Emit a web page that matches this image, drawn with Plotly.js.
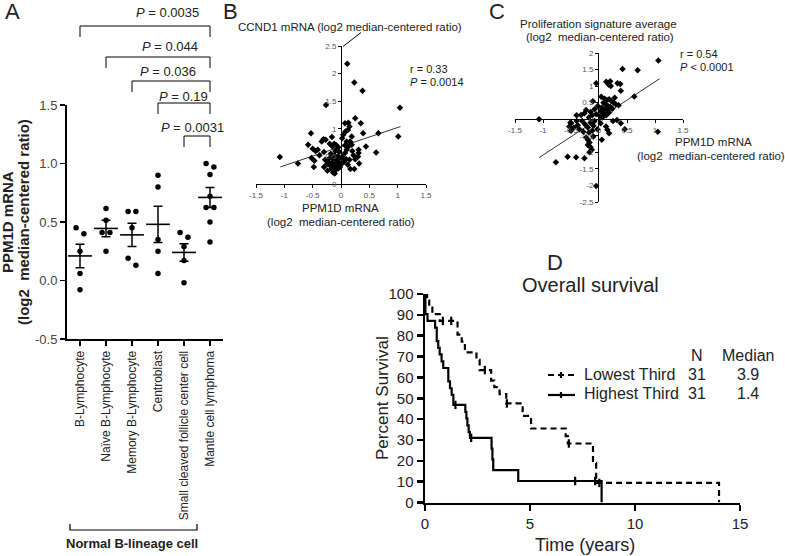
<!DOCTYPE html>
<html><head><meta charset="utf-8">
<script src="https://cdn.plot.ly/plotly-3.0.1.min.js"></script>
<style>html,body{margin:0;padding:0;background:#fff}#chart{width:785px;height:556px}</style>
</head><body><div id="chart"></div>
<script>
// ---------------- Panel A data ----------------
const cellTypes = ["B-Lymphocyte","Naïve B-Lymphocyte","Memory B-Lymphocyte","Centroblast","Small cleaved follicle center cell","Mantle cell lymphoma"];
const bLymphocyte = [0.45,0.40,0.25,0.06,-0.08];
const naiveB = [0.615,0.515,0.41,0.41,0.25];
const memoryB = [0.59,0.59,0.45,0.19,0.13];
const centroblast = [0.90,0.80,0.35,0.25,0.06];
const smallCleaved = [0.41,0.37,0.29,0.17,-0.02];
const mantleCell = [1.00,0.97,0.905,0.72,0.625,0.625,0.50,0.33];
const groupMeans = [0.21,0.445,0.39,0.48,0.24,0.71];
const groupSEM = [0.10,0.07,0.10,0.155,0.075,0.085];
const compareFrom = [0,1,2,3,4];          // each compared with Mantle cell lymphoma
const pValues = ["0.0035","0.044","0.036","0.19","0.0031"];
const yTicksA = [-0.5,0,0.5,1,1.5];
const yTickTextA = ["-0.5","0.0","0.5","1.0","1.5"];

// ---------------- Panel B data ----------------
const ppm1dB = [-1.08,-0.76,-0.48,-0.53,-0.265,1.04,1.01,0.66,0.62,0.44,0.35,0.25,0.39,0.32,0.165,0.235,-0.24,-0.11,
  0.11,0.235,0.38,
  0.07,0.13,0.15,0.12,0.08,0.04,0.02,0.19,0.10,0.16,0.07,0.13,0.19,0.31,0.31,0.30,0.10,0.07,0.03,0.09,0.20,0.22,0.15,0.05,0.12,0.25,
  -0.58,-0.50,-0.45,-0.41,-0.34,-0.31,-0.27,-0.16,-0.20,-0.12,-0.08,-0.15,-0.05,-0.52,-0.47,-0.38,-0.30,
  -0.18,-0.12,-0.06,-0.20,-0.14,-0.08,-0.02,-0.22,-0.16,-0.10,-0.04,-0.19,-0.13,-0.07,-0.01,-0.17,-0.09,-0.14,-0.05,-0.28,-0.25,-0.30,-0.03,-0.10,
  -0.02];
const ccnd1B = [0.49,0.37,0.31,0.92,1.43,1.38,0.86,0.92,0.57,0.68,1.10,1.19,0.92,0.37,0.27,0.27,0.24,0.19,
  2.18,1.84,1.69,
  1.10,1.11,1.04,0.98,0.95,0.89,0.83,0.86,0.77,0.77,0.70,0.68,0.71,0.62,0.56,0.50,0.62,0.56,0.49,0.45,0.60,0.52,0.44,0.40,0.35,0.45,
  0.71,0.64,0.60,0.62,0.77,0.81,0.80,0.85,0.73,0.73,0.70,0.68,0.66,0.47,0.42,0.52,0.58,
  0.55,0.52,0.50,0.47,0.45,0.44,0.47,0.40,0.38,0.37,0.39,0.33,0.31,0.32,0.34,0.27,0.26,0.21,0.28,0.44,0.36,0.31,0.58,0.60,
  0.31];
const fitXB = [-1.07,1.05];
const fitYB = [0.31,1.04];
const axisTicksB = [-1.5,-1,-0.5,0,0.5,1,1.5];
const axisTickTextB = ["-1.5","-1","-0.5","0","0.5","1","1.5"];
const yTicksB = [0,0.5,1,1.5,2,2.5];
const yTickTextB = ["0","0.5","1","1.5","2","2.5"];

// ---------------- Panel C data ----------------
const ppm1dC = [1.06,0.69,0.42,-0.05,0.13,0.20,0.17,0.21,0.33,0.38,0.39,0.63,-0.11,
  0.10,0.14,0.18,0.22,0.26,0.30,0.08,0.12,0.16,0.20,0.05,0.10,0.15,0.24,0.03,0.08,0.13,0.18,0.02,0.06,0.28,0.35,0.04,
  -0.23,-0.26,-0.32,-0.40,-0.15,-0.08,-0.12,-0.05,-0.18,-0.02,
  -1.07,-0.51,-0.50,-0.53,-0.45,-0.38,-0.30,-0.35,-0.25,-0.20,-0.15,-0.10,-0.28,-0.18,-0.08,-0.03,-0.12,0.03,0.39,0.46,1.05,0.15,0.18,0.125,0.25,0.32,
  -0.23,-0.20,-0.17,-0.20,-0.15,-0.13,-0.17,-0.10,-0.77,-0.56,-0.41,-0.26,-0.05,0.05,-0.50,-0.40];
const prolifC = [1.77,1.48,1.52,1.09,1.13,1.15,1.05,1.00,1.09,1.06,0.86,0.69,0.54,
  0.62,0.58,0.60,0.55,0.50,0.45,0.50,0.45,0.40,0.38,0.35,0.30,0.28,0.32,0.25,0.18,0.12,0.20,0.10,0.05,0.65,0.42,0.68,
  0.28,0.18,0.13,0.12,0.22,0.30,0.12,0.15,0.05,0.40,
  0.00,-0.10,-0.12,-0.22,-0.25,-0.18,-0.05,-0.30,-0.15,-0.25,-0.10,-0.20,-0.38,-0.40,-0.05,-0.30,-0.35,-0.12,-0.12,-0.30,-0.38,-0.32,-0.42,-0.22,-0.05,-0.02,
  -0.55,-0.62,-0.70,-0.78,-0.85,-0.92,-1.00,-0.52,-1.30,-1.13,-1.15,-1.18,-2.02,-0.62,-0.35,-0.05];
const fitXC = [-1.07,1.08];
const fitYC = [-1.16,1.22];
const yTicksC = [-2.5,-2,-1.5,-1,-0.5,0,0.5,1,1.5,2];
const yTickTextC = ["-2.5","-2","-1.5","-1","-0.5","0","0.5","1","1.5","2"];

// ---------------- Panel D data (Kaplan-Meier) ----------------
const lowTime = [0,0.1,0.2,0.35,0.7,1.55,1.75,1.9,2.45,2.6,3.15,3.3,3.55,3.87,4.65,5.05,6.7,6.8,8.0,8.15,14.0];
const lowSurv = [100,96.8,93.5,90.3,87.1,80.5,77.2,72.0,68.4,63.5,58.5,55.3,52.0,47.5,41.5,35.5,31.8,28.3,19.0,9.4,0];
const lowCensorT = [0.85,1.25,2.85,3.9,6.85,8.3];
const lowCensorS = [87.1,87.1,63.5,47.5,28.3,9.4];
const highTime = [0,0.02,0.12,0.48,0.56,0.63,0.7,0.79,0.87,1.11,1.19,1.27,1.35,1.92,1.97,2.02,2.08,2.14,3.17,3.21,3.25,4.44,8.41];
const highSurv = [100,90.3,87.1,83.9,77.4,74.2,71.0,67.7,64.5,58.1,54.8,51.6,46.8,43.5,40.3,37.0,33.8,31.0,25.8,20.7,15.5,10.3,0];
const highCensorT = [1.45,2.2,7.15,8.1];
const highCensorS = [46.8,31.0,10.3,10.3];
const groupNames = ["Lowest Third","Highest Third"];
const groupN = ["31","31"];
const groupMedian = ["3.9","1.4"];

// ---------------- helpers ----------------
const W = 785, H = 556;
const X = p => p / W, Y = p => 1 - p / H;
const FONT = "Arial, 'Liberation Sans', Helvetica, sans-serif";

// simple beeswarm offsets for panel A
const groups = [bLymphocyte,naiveB,memoryB,centroblast,smallCleaved,mantleCell];
const dotX = [], dotY = [];
groups.forEach((vals, gi) => {
  const s = vals.slice().sort((a,b)=>b-a);
  const clusters = []; let cur = [s[0]];
  for (let k=1;k<s.length;k++){ if (cur[cur.length-1]-s[k] < 0.062) cur.push(s[k]); else {clusters.push(cur); cur=[s[k]];} }
  clusters.push(cur);
  clusters.forEach(c => c.forEach((v,j) => { dotX.push(gi + (j-(c.length-1)/2)*0.3); dotY.push(v); }));
});

const traces = [
  {x: dotX, y: dotY, xaxis:'x', yaxis:'y', type:'scatter', mode:'markers',
   marker:{color:'#000', size:5.5}, hoverinfo:'y', showlegend:false},
  {x: cellTypes.map((c,i)=>i), y: groupMeans, xaxis:'x', yaxis:'y', type:'scatter', mode:'markers',
   marker:{symbol:'line-ew', size:17, color:'#000', line:{width:1.6, color:'#000'}},
   error_y:{type:'data', array: groupSEM, visible:true, color:'#000', thickness:1.5, width:4.5},
   showlegend:false},
  {x: ppm1dB, y: ccnd1B, xaxis:'x2', yaxis:'y2', type:'scatter', mode:'markers',
   marker:{symbol:'diamond', size:5, color:'#000'}, showlegend:false, cliponaxis:false},
  {x: fitXB, y: fitYB, xaxis:'x2', yaxis:'y2', type:'scatter', mode:'lines',
   line:{color:'#000', width:0.8}, showlegend:false},
  {x: ppm1dC, y: prolifC, xaxis:'x3', yaxis:'y3', type:'scatter', mode:'markers',
   marker:{symbol:'diamond', size:5, color:'#000'}, showlegend:false, cliponaxis:false},
  {x: fitXC, y: fitYC, xaxis:'x3', yaxis:'y3', type:'scatter', mode:'lines',
   line:{color:'#000', width:0.8}, showlegend:false},
  {x: lowTime, y: lowSurv, xaxis:'x4', yaxis:'y4', type:'scatter', mode:'lines', name: groupNames[0],
   line:{shape:'hv', color:'#000', width:2.2, dash:'6px,4px'}, showlegend:false, cliponaxis:false},
  {x: highTime, y: highSurv, xaxis:'x4', yaxis:'y4', type:'scatter', mode:'lines', name: groupNames[1],
   line:{shape:'hv', color:'#000', width:2.2}, showlegend:false, cliponaxis:false},
  {x: lowCensorT, y: lowCensorS, xaxis:'x4', yaxis:'y4', type:'scatter', mode:'markers',
   marker:{symbol:'line-ns', size:6, line:{width:2.2, color:'#000'}}, showlegend:false, cliponaxis:false},
  {x: highCensorT, y: highCensorS, xaxis:'x4', yaxis:'y4', type:'scatter', mode:'markers',
   marker:{symbol:'line-ns', size:6, line:{width:2.2, color:'#000'}}, showlegend:false, cliponaxis:false}
];

const thin = {showgrid:false, zeroline:false, showline:true, linecolor:'#000', linewidth:1,
  ticks:'outside', ticklen:3, tickwidth:1, tickcolor:'#000', tickfont:{size:8, color:'#555', family:FONT}, fixedrange:true};

const layout = {
  width: W, height: H, margin:{l:0,r:0,t:0,b:0}, paper_bgcolor:'#fff', plot_bgcolor:'rgba(0,0,0,0)',
  font:{family:FONT, color:'#222'}, showlegend:false, hovermode:false,
  xaxis:{domain:[X(67),X(223)], range:[-0.5,5.5], anchor:'y', tickvals: cellTypes.map((c,i)=>i), ticktext: cellTypes,
    tickangle:-90, showline:true, linecolor:'#000', linewidth:2, ticks:'outside', ticklen:5, tickwidth:1.5,
    tickcolor:'#000', showgrid:false, zeroline:false, tickfont:{size:12, color:'#222', family:FONT}, fixedrange:true},
  yaxis:{domain:[Y(339),Y(105)], range:[-0.5,1.5], anchor:'x', tickvals: yTicksA, ticktext: yTickTextA,
    showline:true, linecolor:'#000', linewidth:2, ticks:'outside', ticklen:5, tickwidth:1.5, tickcolor:'#000',
    showgrid:false, zeroline:false, tickfont:{size:13, color:'#444', family:FONT}, fixedrange:true},
  xaxis2: Object.assign({}, thin, {domain:[X(256),X(426)], range:[-1.5,1.5], anchor:'y2', tickvals: axisTicksB, ticktext: axisTickTextB}),
  yaxis2: Object.assign({}, thin, {domain:[Y(184),Y(46)], range:[0,2.5], anchor:'free', position: X(341), tickvals: yTicksB, ticktext: yTickTextB}),
  xaxis3: Object.assign({}, thin, {domain:[X(515),X(683)], range:[-1.5,1.5], anchor:'free', position: Y(119.4), tickvals: axisTicksB, ticktext: axisTickTextB}),
  yaxis3: Object.assign({}, thin, {domain:[Y(202),Y(53)], range:[-2.5,2], anchor:'free', position: X(598), tickvals: yTicksC, ticktext: yTickTextC}),
  xaxis4:{domain:[X(425),X(740)], range:[0,15], anchor:'y4', tickvals:[0,5,10,15], showline:true, linecolor:'#000', linewidth:2.5,
    ticks:'outside', ticklen:6, tickwidth:2.5, tickcolor:'#000', showgrid:false, zeroline:false,
    tickfont:{size:15, color:'#222', family:FONT}, fixedrange:true},
  yaxis4:{domain:[Y(502.5),Y(294)], range:[0,100], anchor:'x4', dtick:10, showline:true, linecolor:'#000', linewidth:2.5,
    ticks:'outside', ticklen:6, tickwidth:2.5, tickcolor:'#000', showgrid:false, zeroline:false,
    tickfont:{size:15, color:'#222', family:FONT}, fixedrange:true},
  shapes: [], annotations: []
};

function ann(px, py, text, size, opts) {
  layout.annotations.push(Object.assign({xref:'paper', yref:'paper', x:X(px), y:Y(py), text, showarrow:false,
    font:{size, color:'#222', family:FONT}, xanchor:'center', yanchor:'middle'}, opts||{}));
}

// P-value brackets (panel A)
const bracketTop = [26,57,81,103,136], bracketLeg = 11, pTextY = [13,46,72,96,127], pTextX = [167,170,168,183,192];
compareFrom.forEach((ci,k) => {
  layout.shapes.push({type:'path', xref:'x', yref:'paper',
    path:`M ${ci},${Y(bracketTop[k]+bracketLeg)} L ${ci},${Y(bracketTop[k])} L 5,${Y(bracketTop[k])} L 5,${Y(bracketTop[k]+bracketLeg)}`,
    line:{color:'#000', width:1}});
  ann(pTextX[k], pTextY[k], `<i>P</i> = ${pValues[k]}`, 13);
});
// Normal B-lineage bracket
layout.shapes.push({type:'path', xref:'paper', yref:'paper',
  path:`M ${X(70)},${Y(524)} L ${X(70)},${Y(530)} L ${X(197)},${Y(530)} L ${X(197)},${Y(524)}`, line:{color:'#000', width:1.2}});
// B pointer stroke
layout.shapes.push({type:'line', xref:'paper', yref:'paper', x0:X(343), y0:Y(46.5), x1:X(361), y1:Y(32.5), line:{color:'#000', width:1}});
// D legend samples
layout.shapes.push({type:'line', xref:'paper', yref:'paper', x0:X(548), x1:X(574), y0:Y(375), y1:Y(375), line:{color:'#000', width:2.2, dash:'6px,4px'}});
layout.shapes.push({type:'line', xref:'paper', yref:'paper', x0:X(548), x1:X(575), y0:Y(395), y1:Y(395), line:{color:'#000', width:2.2}});
layout.shapes.push({type:'line', xref:'paper', yref:'paper', x0:X(561), x1:X(561), y0:Y(372), y1:Y(378), line:{color:'#000', width:2.2}});
layout.shapes.push({type:'line', xref:'paper', yref:'paper', x0:X(561), x1:X(561), y0:Y(392), y1:Y(398), line:{color:'#000', width:2.2}});

// Panel letters
ann(12, 12, 'A', 22); ann(230, 12, 'B', 22); ann(497, 12, 'C', 22); ann(555, 262, 'D', 22);
// Panel A titles
ann(8, 222, '<b>PPM1D mRNA</b>', 15, {textangle:-90});
ann(24, 222, '<b>(log2  median-centered ratio)</b>', 15, {textangle:-90});
ann(132, 543, '<b>Normal B-lineage cell</b>', 13);
// Panel B texts
ann(350, 27, 'CCND1 mRNA (log2 median-centered ratio)', 11.5);
ann(408, 69, 'r = 0.33', 11, {xanchor:'left'});
ann(408, 82, '<i>P</i> = 0.0014', 11, {xanchor:'left'});
ann(340, 208, 'PPM1D mRNA', 11.5);
ann(341, 222, '(log2  median-centered ratio)', 11.5);
// Panel C texts
ann(598, 24, 'Proliferation signature average', 11.5);
ann(600, 37, '(log2  median-centered ratio)', 11.5);
ann(678, 54, 'r = 0.54', 11, {xanchor:'left'});
ann(678, 67, '<i>P</i> < 0.0001', 11, {xanchor:'left'});
ann(713, 142, 'PPM1D mRNA', 11.5);
ann(711, 156, '(log2  median-centered ratio)', 11.5);
// Panel D texts
ann(590, 285, 'Overall survival', 20);
ann(382, 398, 'Percent Survival', 17, {textangle:-90});
ann(585, 545, 'Time (years)', 18);
ann(582, 374, groupNames[0], 16, {xanchor:'left'});
ann(582, 393, groupNames[1], 16, {xanchor:'left'});
ann(697, 355, 'N', 16); ann(748, 355, 'Median', 16);
ann(697, 374, groupN[0], 16); ann(748, 374, groupMedian[0], 16);
ann(697, 393, groupN[1], 16); ann(748, 393, groupMedian[1], 16);

Plotly.newPlot('chart', traces, layout, {staticPlot:true, displayModeBar:false});
</script></body></html>
